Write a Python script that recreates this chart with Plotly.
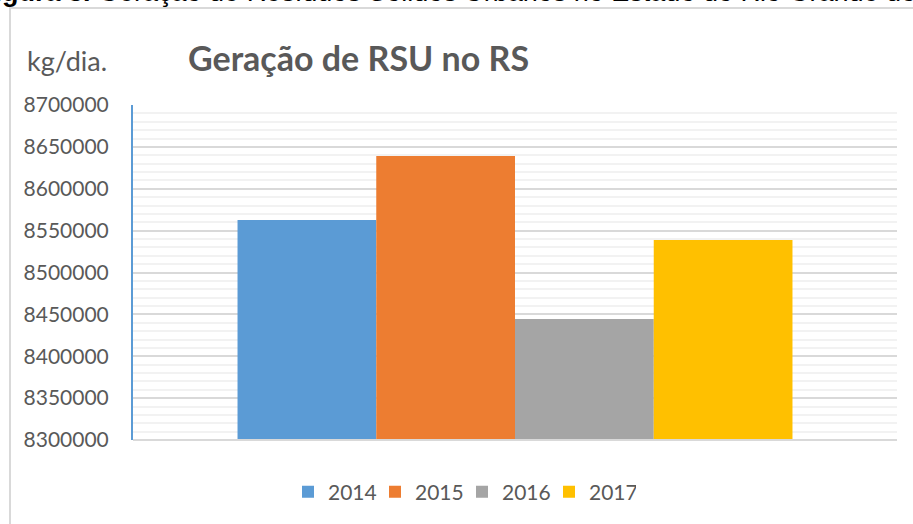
import plotly.graph_objects as go

years = ["2014", "2015", "2016", "2017"]
values = [8562700, 8639100, 8444500, 8538800]
colors = ["#5b9bd5", "#ed7d31", "#a5a5a5", "#ffc000"]
category = ["RSU"]
y_ticks = [8300000, 8350000, 8400000, 8450000, 8500000, 8550000, 8600000, 8650000, 8700000]

W, H = 913, 524
L, R, T, B = 133, 16, 105, 84
pw, ph = W - L - R, H - T - B

def px(x):
    return (x - L) / pw

def py(y):
    return 1 - (y - T) / ph

fig = go.Figure()
for yr, v, c in zip(years, values, colors):
    fig.add_trace(go.Bar(x=category, y=[v], name=yr, marker=dict(color=c, line=dict(width=0))))

fig.update_layout(
    width=W, height=H,
    margin=dict(l=L, r=R, t=T, b=B),
    paper_bgcolor="white", plot_bgcolor="white",
    barmode="group", bargap=0.2736, bargroupgap=0,
    font=dict(family="Lato, sans-serif", color="#595959"),
    showlegend=True,
    legend=dict(orientation="h", x=px(288), xanchor="left", y=py(492), yanchor="middle",
                font=dict(size=21, color="#595959"), itemwidth=30, traceorder="normal",
                entrywidth=42, entrywidthmode="pixels"),
    xaxis=dict(showticklabels=False, showgrid=False, zeroline=False, showline=False, fixedrange=True),
    yaxis=dict(range=[8300000, 8700000], tickvals=y_ticks, ticktext=[str(t) for t in y_ticks],
               tickfont=dict(size=21, color="#595959"), ticklabelstandoff=18,
               showgrid=True, gridcolor="#d9d9d9", gridwidth=1.5,
               minor=dict(dtick=10000, showgrid=True, gridcolor="#f2f2f2", gridwidth=1.5),
               zeroline=False, showline=True, linecolor="#5b9bd5", linewidth=2),
    annotations=[
        dict(text="Geração de RSU no RS", xref="paper", yref="paper", x=px(186), y=py(57),
             xanchor="left", yanchor="middle", showarrow=False,
             font=dict(size=34, color="#595959", family="Lato, sans-serif", weight="bold")),
        dict(text="kg/dia.", xref="paper", yref="paper", x=px(25), y=py(61),
             xanchor="left", yanchor="middle", showarrow=False,
             font=dict(size=27, color="#595959", family="Lato, sans-serif")),
        dict(text="<b>Figura 3.</b> Geração de Resíduos Sólidos Urbanos no Estado do Rio Grande do Sul",
             xref="paper", yref="paper", x=px(-24), y=py(9), xanchor="left", yanchor="bottom",
             showarrow=False, font=dict(size=27, color="#000000", family="Liberation Sans, Arial")),
    ],
    shapes=[
        dict(type="line", xref="paper", yref="paper", x0=px(9), x1=px(913), y0=py(8), y1=py(8),
             line=dict(color="#d9d9d9", width=2)),
        dict(type="line", xref="paper", yref="paper", x0=px(10), x1=px(10), y0=py(7), y1=py(524),
             line=dict(color="#d9d9d9", width=2)),
        dict(type="line", xref="paper", yref="paper", x0=0, x1=1, y0=0, y1=0,
             line=dict(color="#d9d9d9", width=2)),
    ],
)

fig.write_html("out.html", config={"displayModeBar": False},
               post_script="document.body.style.margin='0';")
